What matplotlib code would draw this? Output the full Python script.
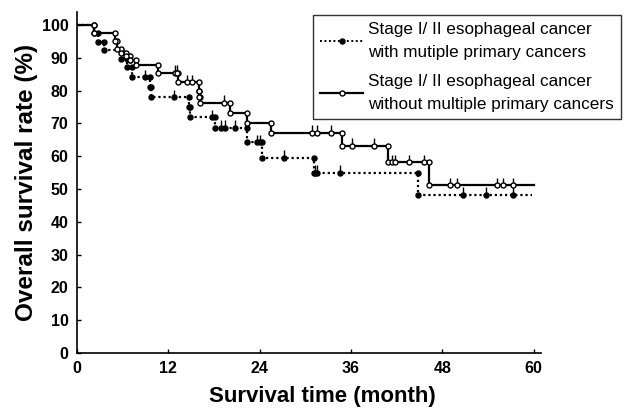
import numpy as np
import matplotlib
matplotlib.use("Agg")
import matplotlib.pyplot as plt
from matplotlib.lines import Line2D

plt.rcParams['font.family'] = ['Liberation Sans', 'DejaVu Sans']

# with multiple primary cancers (dotted, filled markers)
mpc_times = [2.3, 2.8, 3.6, 5.8, 6.6, 7.2, 9.6, 9.7, 14.7, 14.9, 18.2, 22.3, 24.3, 31.1, 44.8]
mpc_surv = [97.6, 94.9, 92.3, 89.7, 87.1, 84.0, 81.0, 77.9, 74.9, 71.8, 68.7, 64.3, 59.5, 54.9, 48.2]
mpc_censor = [8.9, 12.7, 17.8, 18.9, 19.4, 20.8, 23.7, 24.0, 27.2, 31.3, 31.5, 34.6, 50.7, 53.8, 57.3]
mpc_end = 59.8

# without multiple primary cancers (solid, open markers)
no_times = [2.3, 5.0, 5.3, 5.8, 6.4, 7.0, 7.8, 10.7, 13.3, 16.0, 16.1, 16.2, 20.1, 22.4,
            25.5, 34.8, 40.9, 46.2]
no_surv = [97.7, 95.2, 92.8, 91.6, 90.4, 89.2, 87.7, 85.5, 82.5, 80.0, 78.0, 76.3, 73.3, 70.1,
           67.2, 63.2, 58.2, 51.1]
no_censor = [7.0, 12.9, 13.1, 14.5, 15.1, 19.3, 30.9, 31.6, 33.4, 36.1, 39.0, 41.4, 41.8,
             43.6, 45.6, 49.0, 50.0, 55.2, 56.0, 57.3]
no_end = 60.0

legend_labels = ["Stage I/ II esophageal cancer\nwith mutiple primary cancers",
                 "Stage I/ II esophageal cancer\nwithout multiple primary cancers"]


def km_curve(ax, times, surv, censor, end, ls, mfc):
    t = np.array([0] + times + [end])
    s = np.array([100] + surv + [surv[-1]])
    ax.step(t, s, where='post', color='black', lw=1.6, ls=ls, zorder=2)
    before = np.array([100] + surv[:-1])
    mt = np.concatenate([times, times])
    ms = np.concatenate([before, surv])
    idx = np.searchsorted(times, censor, side='right')
    cs = np.array([100] + surv)[idx]
    ax.vlines(censor, cs, cs + 2.3, color='black', lw=1.0, zorder=2)
    ax.plot(np.concatenate([mt, censor]), np.concatenate([ms, cs]), ls='none',
            marker='o', ms=3.6, mfc=mfc, mec='black', mew=1.0, zorder=3)


fig = plt.figure(figsize=(6.3, 4.09), dpi=100)
ax = fig.add_axes([0.122, 0.137, 0.737, 0.834])

km_curve(ax, mpc_times, mpc_surv, mpc_censor, mpc_end, (0, (1, 1.3)), 'black')
km_curve(ax, no_times, no_surv, no_censor, no_end, '-', 'white')

ax.set_xlim(0, 61)
ax.set_ylim(0, 104)
ax.set_xticks([0, 12, 24, 36, 48, 60])
ax.set_yticks(np.arange(0, 101, 10))
ax.tick_params(direction='in', length=3, width=1, labelsize=11.5)
ax.tick_params(axis='x', pad=6)
ax.tick_params(axis='y', pad=6)
for lab in ax.get_xticklabels() + ax.get_yticklabels():
    lab.set_fontweight('bold')
for side in ['top', 'right']:
    ax.spines[side].set_visible(False)
for side in ['left', 'bottom']:
    ax.spines[side].set_linewidth(1.2)

ax.set_xlabel('Survival time (month)', fontsize=16, fontweight='bold')
ax.xaxis.set_label_coords(0.528, -0.097)
ax.set_ylabel('Overall survival rate (%)', fontsize=17.5, fontweight='bold', labelpad=3)

handles = [Line2D([], [], color='black', ls=(0, (1, 1.3)), lw=1.4, marker='o', ms=3.6,
                  mfc='black', mec='black'),
           Line2D([], [], color='black', ls='-', lw=1.6, marker='o', ms=3.6,
                  mfc='white', mec='black')]
leg = fig.legend(handles, legend_labels, loc='upper right', bbox_to_anchor=(1.0, 0.985),
                 fontsize=12.3, frameon=True, fancybox=False, edgecolor='black',
                 handlelength=2.5, handletextpad=0.3, borderpad=0.45, labelspacing=0.8)
leg.get_frame().set_linewidth(1.0)
for txt in leg.get_texts():
    txt.set_linespacing(1.65)

fig.savefig('out.png', dpi=100)
